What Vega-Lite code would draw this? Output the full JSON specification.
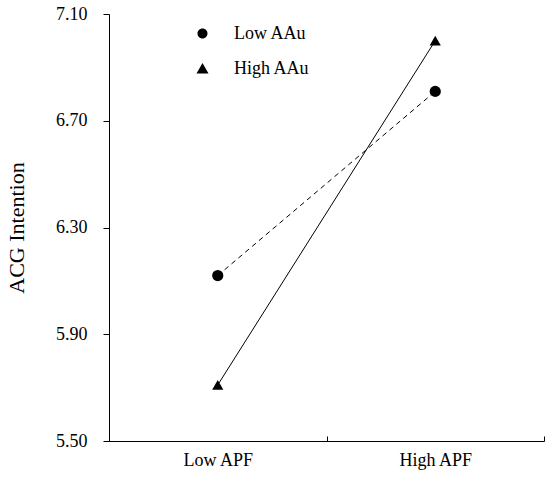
{
  "$schema": "https://vega.github.io/schema/vega-lite/v6.json",
  "autosize": "none",
  "padding": {"left": 109, "top": 14, "right": 6, "bottom": 37},
  "width": 435,
  "height": 427,
  "config": {
    "view": {"stroke": null},
    "font": "Times New Roman, Liberation Serif, serif",
    "axis": {"labelFont": "Times New Roman, Liberation Serif, serif", "titleFont": "Times New Roman, Liberation Serif, serif", "labelColor": "black", "titleColor": "black", "domainColor": "black", "tickColor": "black", "grid": false},
    "legend": {"labelFont": "Times New Roman, Liberation Serif, serif", "labelColor": "black"}
  },
  "data": {
    "values": [
      {"group": "Low AAu", "apf": "Low APF", "value": 6.12},
      {"group": "Low AAu", "apf": "High APF", "value": 6.81},
      {"group": "High AAu", "apf": "Low APF", "value": 5.71},
      {"group": "High AAu", "apf": "High APF", "value": 7.0}
    ]
  },
  "encoding": {
    "x": {
      "field": "apf",
      "type": "nominal",
      "sort": ["Low APF", "High APF"],
      "scale": {"paddingInner": 0, "paddingOuter": 0},
      "axis": {
        "title": null,
        "labelAngle": 0,
        "labelFontSize": 18,
        "tickBand": "extent",
        "tickSize": -5,
        "labelPadding": 15
      }
    },
    "y": {
      "field": "value",
      "type": "quantitative",
      "scale": {"domain": [5.5, 7.1], "nice": false, "zero": false},
      "axis": {
        "title": "ACG Intention",
        "titleFontSize": 22,
        "titleFontWeight": "normal",
        "titlePadding": 27,
        "values": [5.5, 5.9, 6.3, 6.7, 7.1],
        "format": ".2f",
        "labelFontSize": 18,
        "tickSize": 6,
        "labelPadding": 16
      }
    }
  },
  "layer": [
    {
      "transform": [{"filter": "datum.group === 'Low AAu'"}],
      "mark": {"type": "line", "color": "black", "strokeWidth": 1, "strokeDash": [5, 4]},
      "encoding": {}
    },
    {
      "transform": [{"filter": "datum.group === 'High AAu'"}],
      "mark": {"type": "line", "color": "black", "strokeWidth": 1},
      "encoding": {}
    },
    {
      "transform": [{"filter": "datum.group === 'Low AAu'"}],
      "mark": {"type": "point", "filled": true, "color": "black", "size": 125, "opacity": 1, "shape": "circle"}
    },
    {
      "transform": [{"filter": "datum.group === 'High AAu'"}],
      "mark": {"type": "point", "filled": true, "color": "black", "size": 125, "opacity": 1, "shape": "triangle-up"}
    },
    {
      "mark": {"type": "point", "filled": false, "fill": "black", "stroke": "black", "strokeWidth": 1, "size": 0, "opacity": 0},
      "encoding": {
        "shape": {
          "field": "group",
          "type": "nominal",
          "scale": {
            "domain": ["Low AAu", "High AAu"],
            "range": [
              "M-2.5,0H2.5M-0.5,0A0.5,0.5 0 1,1 0.5,0A0.5,0.5 0 1,1 -0.5,0Z",
              "M-2.5,0H2.5M-0.6,0.5L0,-0.55L0.6,0.5Z"
            ]
          },
          "legend": {
            "title": null,
            "orient": "none",
            "legendX": 83,
            "legendY": 9,
            "padding": 0,
            "symbolSize": 400,
            "symbolOpacity": 1,
            "symbolFillColor": "black",
            "symbolStrokeColor": "black",
            "symbolStrokeWidth": 1,
            "labelFontSize": 18,
            "labelOffset": 21,
            "rowPadding": 15
          }
        },
        "strokeDash": {
          "field": "group",
          "type": "nominal",
          "scale": {"domain": ["Low AAu", "High AAu"], "range": [[5, 4], [1, 0]]},
          "legend": {
            "title": null,
            "orient": "none",
            "legendX": 83,
            "legendY": 9,
            "padding": 0,
            "symbolSize": 400,
            "symbolOpacity": 1,
            "symbolFillColor": "black",
            "symbolStrokeColor": "black",
            "symbolStrokeWidth": 1,
            "labelFontSize": 18,
            "labelOffset": 21,
            "rowPadding": 15
          }
        }
      }
    }
  ]
}
